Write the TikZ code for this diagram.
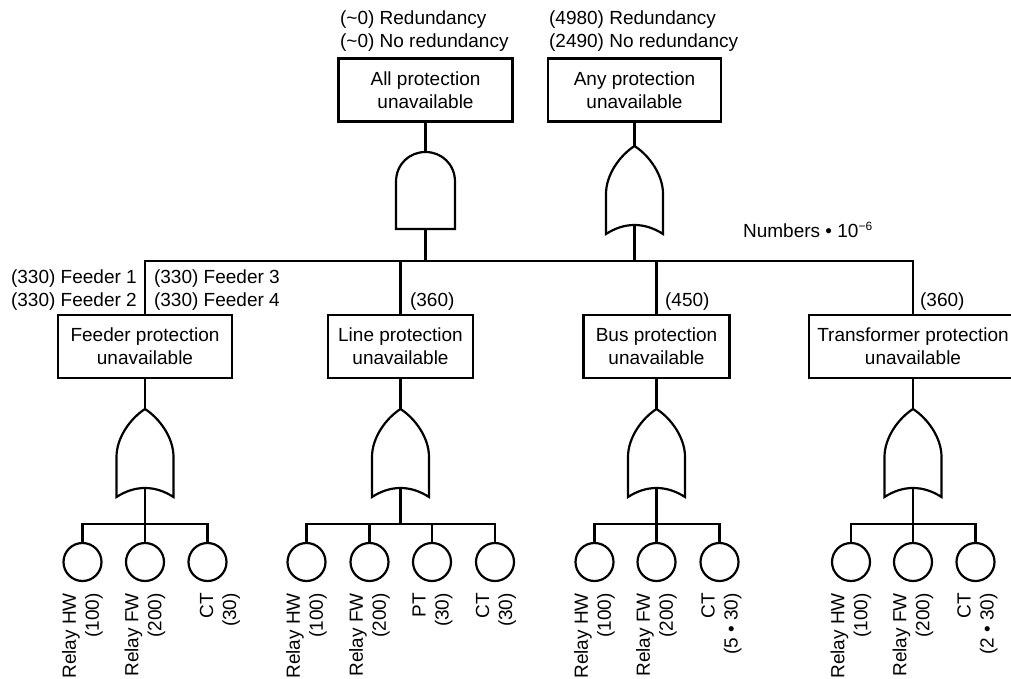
\documentclass[tikz,border=0pt]{standalone}
\usepackage{fontspec}
\setmainfont{Liberation Sans}
\begin{document}
\begin{tikzpicture}[x=1pt,y=-1pt,line width=2.2pt,
  every node/.style={font=\fontsize{19}{23}\selectfont,inner sep=0pt},
  box/.style={draw,rectangle,align=center,minimum height=63pt},
  event/.style={draw,circle,minimum size=38pt},
  lbl/.style={anchor=base west},
  leaf/.style={rotate=90,anchor=east,align=right},
  orgate/.pic={
    \draw (0,0) .. controls (14,9) and (28.5,28) .. (28.5,48) -- (28.5,88)
      .. controls (10,76) and (-10,76) .. (-28.5,88) -- (-28.5,48)
      .. controls (-28.5,28) and (-14,9) .. cycle;
    \coordinate (-top) at (0,0);
    \coordinate (-bot) at (0,79);
  },
  andgate/.pic={
    \draw (-29.5,77) -- (-29.5,30) .. controls (-29.5,12) and (-16,0) .. (0,0)
      .. controls (16,0) and (29.5,12) .. (29.5,30) -- (29.5,77) -- cycle;
    \coordinate (-top) at (0,0);
    \coordinate (-bot) at (0,77);
  }
]
\useasboundingbox (0,0) rectangle (1011,679);

% top level
\node[lbl] (t1) at (339,25) {(\textasciitilde0) Redundancy};
\node[lbl] (t2) at (339,48) {(\textasciitilde0) No redundancy};
\node[lbl] (t3) at (548,25) {(4980) Redundancy};
\node[lbl] (t4) at (548,48) {(2490) No redundancy};
\node[box,minimum width=174pt] (allbox) at (425.5,90) {All protection\\unavailable};
\node[box,minimum width=173pt] (anybox) at (634.5,90) {Any protection\\unavailable};
\pic (andg) at (425.5,152) {andgate};
\pic (anyg) at (634.5,146) {orgate};
\draw (allbox.south) -- (andg-top);
\draw (anybox.south) -- (anyg-top);
\node[lbl] (num) at (742,237) {Numbers • 10\raisebox{6.7pt}{\fontsize{12}{12}\selectfont −6}};

% second level boxes
\node[box,minimum width=174pt] (feederbox) at (145,346.5) {Feeder protection\\unavailable};
\node[box,minimum width=145pt] (linebox) at (400.5,346.5) {Line protection\\unavailable};
\node[box,minimum width=146pt] (busbox) at (656.5,346.5) {Bus protection\\unavailable};
\node[box,minimum width=208pt] (transbox) at (913,346.5) {Transformer protection\\unavailable};

\coordinate (busL) at (145,261);
\coordinate (busR) at (913,261);
\draw (feederbox.north) -- (busL) -- (busR) -- (transbox.north);
\draw (linebox.north) -- (linebox.north |- busL);
\draw (busbox.north) -- (busbox.north |- busL);
\draw (andg-bot) -- (andg-bot |- busL);
\draw (anyg-bot) -- (anyg-bot |- busL);

\node[lbl] (f1) at (10,283) {(330) Feeder 1};
\node[lbl] (f2) at (10,306) {(330) Feeder 2};
\node[lbl] (f3) at (153,283) {(330) Feeder 3};
\node[lbl] (f4) at (153,306) {(330) Feeder 4};
\node[lbl] (n1) at (409,306) {(360)};
\node[lbl] (n2) at (664,306) {(450)};
\node[lbl] (n3) at (919,306) {(360)};

% feeder group
\pic (fg) at (145,409) {orgate};
\draw (feederbox.south) -- (fg-top);
\coordinate (fk) at (145,524);
\node[event] (fa) at (82.5,562) {};
\node[event] (fb) at (145,562) {};
\node[event] (fc) at (207.5,562) {};
\draw (fg-bot) -- (fk);
\draw (fa.north) |- (fk) -| (fc.north);
\draw (fb.north) -- (fk);
\node[leaf] (fal) at (82.5,592) {Relay HW\\(100)};
\node[leaf] (fbl) at (145,592) {Relay FW\\(200)};
\node[leaf] (fcl) at (220,592) {CT\\(30)};

% line group
\pic (lg) at (400.5,409) {orgate};
\draw (linebox.south) -- (lg-top);
\coordinate (lk) at (400.5,524);
\node[event] (la) at (306.5,562) {};
\node[event] (lb) at (369.5,562) {};
\node[event] (lc) at (432,562) {};
\node[event] (ld) at (495,562) {};
\draw (lg-bot) -- (lk);
\draw (la.north) |- (lk) -| (ld.north);
\draw (lb.north) -- (lb.north |- lk);
\draw (lc.north) -- (lc.north |- lk);
\node[leaf] (lal) at (306.5,592) {Relay HW\\(100)};
\node[leaf] (lbl) at (369.5,592) {Relay FW\\(200)};
\node[leaf] (lcl) at (432.5,592) {PT\\(30)};
\node[leaf] (ldl) at (496,592) {CT\\(30)};

% bus group
\pic (bg) at (656.5,409) {orgate};
\draw (busbox.south) -- (bg-top);
\coordinate (bk) at (656.5,524);
\node[event] (ba) at (594.5,562) {};
\node[event] (bb) at (656.5,562) {};
\node[event] (bc) at (719.5,562) {};
\draw (bg-bot) -- (bk);
\draw (ba.north) |- (bk) -| (bc.north);
\draw (bb.north) -- (bk);
\node[leaf] (bal) at (594.5,592) {Relay HW\\(100)};
\node[leaf] (bbl) at (656.5,592) {Relay FW\\(200)};
\node[leaf] (bcl) at (721.5,592) {CT\\(5 • 30)};

% transformer group
\pic (tg) at (913,409) {orgate};
\draw (transbox.south) -- (tg-top);
\coordinate (tk) at (913,524);
\node[event] (ta) at (851,562) {};
\node[event] (tb) at (913,562) {};
\node[event] (tc) at (975.5,562) {};
\draw (tg-bot) -- (tk);
\draw (ta.north) |- (tk) -| (tc.north);
\draw (tb.north) -- (tk);
\node[leaf] (tal) at (851,592) {Relay HW\\(100)};
\node[leaf] (tbl) at (913,592) {Relay FW\\(200)};
\node[leaf] (tcl) at (977.5,592) {CT\\(2 • 30)};
\end{tikzpicture}
\end{document}
